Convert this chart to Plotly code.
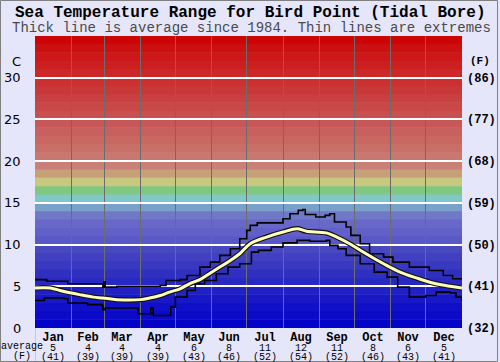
import plotly.graph_objects as go

# ---------------- data ----------------
months = ["Jan", "Feb", "Mar", "Apr", "May", "Jun", "Jul", "Aug", "Sep", "Oct", "Nov", "Dec"]
month_avg_c = [5, 4, 4, 4, 6, 8, 11, 12, 11, 8, 6, 5]
month_avg_f = [41, 39, 39, 39, 43, 46, 52, 54, 52, 46, 43, 41]
month_bounds = [0, 31, 59, 90, 120, 151, 181, 212, 243, 273, 304, 334, 365]

c_ticks = [0, 5, 10, 15, 20, 25, 30]
f_labels = ["(32)", "(41)", "(50)", "(59)", "(68)", "(77)", "(86)"]

avg_days = [0, 13, 24, 38, 50, 58, 70, 90, 98, 107, 115, 124, 132, 141, 150, 158, 167, 175, 184,
            198, 212, 224, 232, 249, 258, 269, 283, 298, 312, 326, 340, 355, 365]
avg_temp = [4.8, 4.8, 4.4, 4.0, 3.7, 3.6, 3.4, 3.4, 3.6, 3.9, 4.3, 4.7, 5.3, 5.8, 6.6, 7.3, 8.1, 8.9, 10.1,
            10.9, 11.5, 11.9, 11.6, 11.4, 10.9, 10.1, 8.9, 7.7, 6.7, 6.0, 5.4, 5.0, 4.8]

hi_days = [0, 8, 10, 25, 28, 57, 58, 59, 60, 68, 70, 100, 107, 112, 124, 130, 141, 150, 158, 167, 175,
           181, 184, 190, 207, 212, 218, 225, 229, 231, 240, 248, 252, 256, 266, 270, 278, 286, 298, 306,
           320, 337, 349, 357, 365]
hi_temp = [5.8, 5.8, 5.6, 5.6, 5.3, 5.3, 4.9, 5.5, 4.9, 4.9, 5.0, 5.0, 5.1, 5.7, 5.8, 6.3, 7.3, 7.9, 8.7, 9.5, 10.7,
           11.7, 12.3, 12.6, 12.6, 13.1, 13.7, 14.1, 14.2, 13.6, 13.3, 13.5, 13.7, 12.7, 12.1, 11.1, 10.1, 8.9, 8.5, 7.9,
           7.3, 6.9, 6.3, 5.9, 5.8]

lo_days = [0, 8, 25, 28, 45, 57, 58, 60, 86, 88, 98, 99, 101, 114, 116, 120, 130, 137, 145, 155, 165,
           175, 183, 185, 191, 202, 212, 224, 235, 249, 252, 259, 266, 278, 290, 301, 310, 320, 334, 343,
           355, 360, 365]
lo_temp = [3.3, 3.6, 3.5, 3.0, 2.8, 2.7, 2.2, 2.4, 2.4, 1.7, 1.7, 2.4, 1.5, 1.5, 2.5, 3.7, 4.5, 5.3, 5.7, 6.5, 7.3,
           7.7, 7.7, 9.1, 9.3, 9.7, 10.2, 10.5, 10.4, 10.5, 9.9, 9.5, 8.7, 7.7, 6.7, 6.1, 4.9, 3.7, 3.9, 4.3,
           4.2, 3.7, 3.3]

band_colors = [
    "#0404c8", "#0a0ac8", "#1010c8", "#1818c6", "#2020c4", "#2828c2", "#3030c0", "#3838c0", "#4040c0", "#4848c0",
    "#5858c8", "#6060c8", "#6868c8", "#7078c8", "#78a0c8", "#80c8c8", "#80c880", "#c8c880", "#c8a078", "#c88078",
    "#c87870", "#c87068", "#c86860", "#c86060", "#c85858", "#c85050", "#c84848", "#c84040", "#c83838", "#cc3030",
    "#cc2828", "#cc2020", "#cc1818", "#cc1010", "#cc0404",
]

# ---------------- layout geometry ----------------
W, H = 500, 362
ML, MR, MT, MB = 35, 38, 36, 34
PW, PH = W - ML - MR, H - MT - MB


def px_x(px):
    return (px - ML) / PW


def px_y(py):
    return (H - MB - py) / PH


MONO = "Liberation Mono, Courier New, monospace"
SANS = "DejaVu Sans, Verdana, sans-serif"

fig = go.Figure()

fig.add_trace(go.Scatter(x=hi_days, y=hi_temp, mode="lines", line=dict(color="#000000", width=1.6, shape="hv"),
                         hoverinfo="skip", showlegend=False))
fig.add_trace(go.Scatter(x=lo_days, y=lo_temp, mode="lines", line=dict(color="#000000", width=1.6, shape="hv"),
                         hoverinfo="skip", showlegend=False))
fig.add_trace(go.Scatter(x=avg_days, y=avg_temp, mode="lines", line=dict(color="#101010", width=5.2, shape="spline"),
                         hoverinfo="skip", showlegend=False))
fig.add_trace(go.Scatter(x=avg_days, y=avg_temp, mode="lines", line=dict(color="#ffffbc", width=3, shape="spline"),
                         hoverinfo="skip", showlegend=False))

shapes = []
for i, col in enumerate(band_colors):
    top = i + 1.06 if i < len(band_colors) - 1 else i + 1
    shapes.append(dict(type="rect", xref="x", yref="y", x0=0, x1=365, y0=i, y1=top,
                       fillcolor=col, line=dict(width=0), layer="below"))
# figure border
shapes.append(dict(type="rect", xref="paper", yref="paper", x0=px_x(0.5), x1=px_x(497.5),
                   y0=px_y(361.5), y1=px_y(0.5), line=dict(color="#808080", width=1)))
# separator under plot
shapes.append(dict(type="line", xref="paper", yref="paper", x0=px_x(35.5), x1=px_x(35.5),
                   y0=px_y(361), y1=0, line=dict(color="#c8c8dc", width=1)))

ann = []
ann.append(dict(text="<b>Sea Temperature Range for Bird Point (Tidal Bore)</b>", xref="paper", yref="paper",
                x=px_x(250), y=1, yshift=23, showarrow=False, xanchor="center", yanchor="middle",
                font=dict(family=MONO, size=16, color="#000000")))
ann.append(dict(text="Thick line is average since 1984. Thin lines are extremes", xref="paper", yref="paper",
                x=px_x(251), y=1, yshift=8, showarrow=False, xanchor="center", yanchor="middle",
                font=dict(family=MONO, size=14, color="#4a4a4a")))

for t, fl in zip(c_ticks, f_labels):
    ann.append(dict(text=str(t), xref="paper", yref="y", x=px_x(23), y=t, showarrow=False,
                    xanchor="right", yanchor="middle", font=dict(family=SANS, size=13, color="#000000")))
    ann.append(dict(text="<b>" + fl + "</b>", xref="paper", yref="y", x=px_x(465), y=t, yshift=-1, showarrow=False,
                    xanchor="left", yanchor="middle", font=dict(family=MONO, size=12, color="#000000")))
ann.append(dict(text="C", xref="paper", yref="y", x=px_x(23), y=32, showarrow=False,
                xanchor="right", yanchor="middle", font=dict(family=SANS, size=13, color="#000000")))
ann.append(dict(text="<b>(F)</b>", xref="paper", yref="y", x=px_x(492), y=32, showarrow=False,
                xanchor="right", yanchor="middle", font=dict(family=MONO, size=11, color="#000000")))

for i, m in enumerate(months):
    mid = (month_bounds[i] + month_bounds[i + 1]) / 2
    txt = ("<span style='font-size:12px'><b>" + m + "</b></span><br>"
           "<span style='font-size:10px'>" + str(month_avg_c[i]) + "</span><br>"
           "<span style='font-size:10px'>(" + str(month_avg_f[i]) + ")</span>")
    ann.append(dict(text=txt, xref="x", yref="paper", x=mid, y=0, yshift=-1, showarrow=False,
                    xanchor="center", yanchor="top", align="center",
                    font=dict(family=MONO, size=7.4, color="#000000")))
ann.append(dict(text="<span style='font-size:10px'>average</span><br>"
                     "<span style='font-size:10px'>(F)</span>",
                xref="paper", yref="paper", x=px_x(21.5), y=0, yshift=-10.5, showarrow=False,
                xanchor="center", yanchor="top", align="center",
                font=dict(family=MONO, size=7.4, color="#000000")))

fig.update_layout(
    width=W, height=H,
    margin=dict(l=ML, r=MR, t=MT, b=MB, pad=0),
    paper_bgcolor="#e6e6fa", plot_bgcolor="#e6e6fa",
    shapes=shapes, annotations=ann, showlegend=False,
    xaxis=dict(range=[0, 365], tickvals=month_bounds[1:-1], showticklabels=False, ticks="",
               showgrid=True, gridcolor="#6c6c6c", gridwidth=1, zeroline=False, showline=False, fixedrange=True),
    yaxis=dict(range=[0, 35], tickvals=c_ticks[1:], showticklabels=False, ticks="",
               showgrid=True, gridcolor="#ffffff", gridwidth=2, zeroline=False, showline=False, fixedrange=True),
)

fig.write_html("out.html", config={"displayModeBar": False},
               post_script="document.body.style.margin='0';document.body.style.padding='0';"
                           "document.body.style.overflow='hidden';")
